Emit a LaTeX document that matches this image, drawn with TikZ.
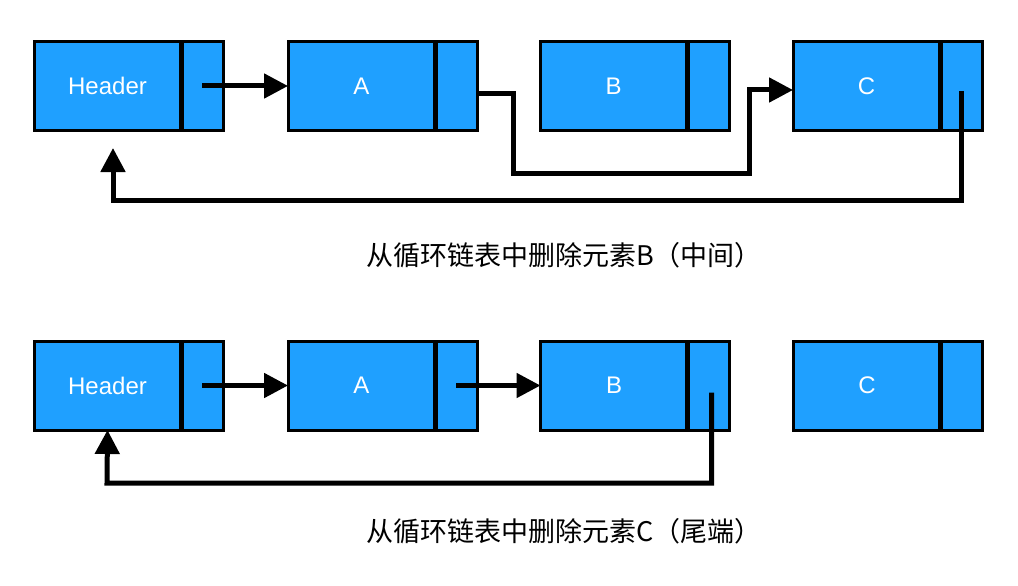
\documentclass[tikz,border=0pt]{standalone}
\usepackage{fontspec}
\setmainfont{Liberation Sans}
\newfontfamily\cjk{Noto Sans CJK SC}
\usetikzlibrary{arrows.meta}
\definecolor{nodeblue}{RGB}{31,160,255}
\begin{document}
\begin{tikzpicture}[x=1pt,y=-1pt,
  mainpart/.style={draw=black, fill=nodeblue, line width=3pt, minimum width=147pt, minimum height=89pt, inner sep=0pt, outer sep=0pt, text=white, font=\fontsize{24}{28}\selectfont},
  ptrpart/.style={draw=black, fill=nodeblue, line width=3pt, minimum width=42pt, minimum height=89pt, inner sep=0pt, outer sep=0pt, anchor=west},
  divider/.style={line width=5pt},
  conn/.style={line width=5pt, -{Triangle[length=24pt,width=24pt]}},
  caption/.style={font=\cjk\fontsize{27}{32}\selectfont, anchor=west, inner sep=0pt}]
\useasboundingbox (0,0) rectangle (1018,586);

% top row
\node[mainpart] (Hm) at (107.5,86) {Header};
\node[ptrpart] (Hp) at (Hm.east) {};
\node[mainpart] (Am) at (361.5,86) {A};
\node[ptrpart] (Ap) at (Am.east) {};
\node[mainpart] (Bm) at (613.5,86) {B};
\node[ptrpart] (Bp) at (Bm.east) {};
\node[mainpart] (Cm) at (866.5,86) {C};
\node[ptrpart] (Cp) at (Cm.east) {};
\foreach \n in {Hm,Am,Bm,Cm} \draw[divider] (\n.north east) -- (\n.south east);

\draw[conn] (Hp.center) -- (Am.west);
\draw[conn] ([yshift=-8pt]Ap.east) -| (513,173) -| (749,90) -- ([yshift=-4pt]Cm.west);
\draw[conn] ([yshift=-5pt]Cp.center) |- (113,200) -- ([xshift=5.5pt,yshift=-17.5pt]Hm.south);

\node[caption] (cap1) at (366,255) {从循环链表中删除元素B（中间）};

% bottom row
\node[mainpart] (H2m) at (107.5,385.5) {Header};
\node[ptrpart] (H2p) at (H2m.east) {};
\node[mainpart] (A2m) at (361.5,385.5) {A};
\node[ptrpart] (A2p) at (A2m.east) {};
\node[mainpart] (B2m) at (614,385.5) {B};
\node[ptrpart] (B2p) at (B2m.east) {};
\node[mainpart] (C2m) at (867,385.5) {C};
\node[ptrpart] (C2p) at (C2m.east) {};
\foreach \n in {H2m,A2m,B2m,C2m} \draw[divider] (\n.north east) -- (\n.south east);

\draw[conn] (H2p.center) -- (A2m.west);
\draw[conn] (A2p.center) -- (B2m.west);
\draw[conn] ([xshift=3pt,yshift=-7pt]B2p.center) |- (107,483) -- (H2m.south);

\node[caption] (cap2) at (366,531) {从循环链表中删除元素C（尾端）};
\end{tikzpicture}
\end{document}
